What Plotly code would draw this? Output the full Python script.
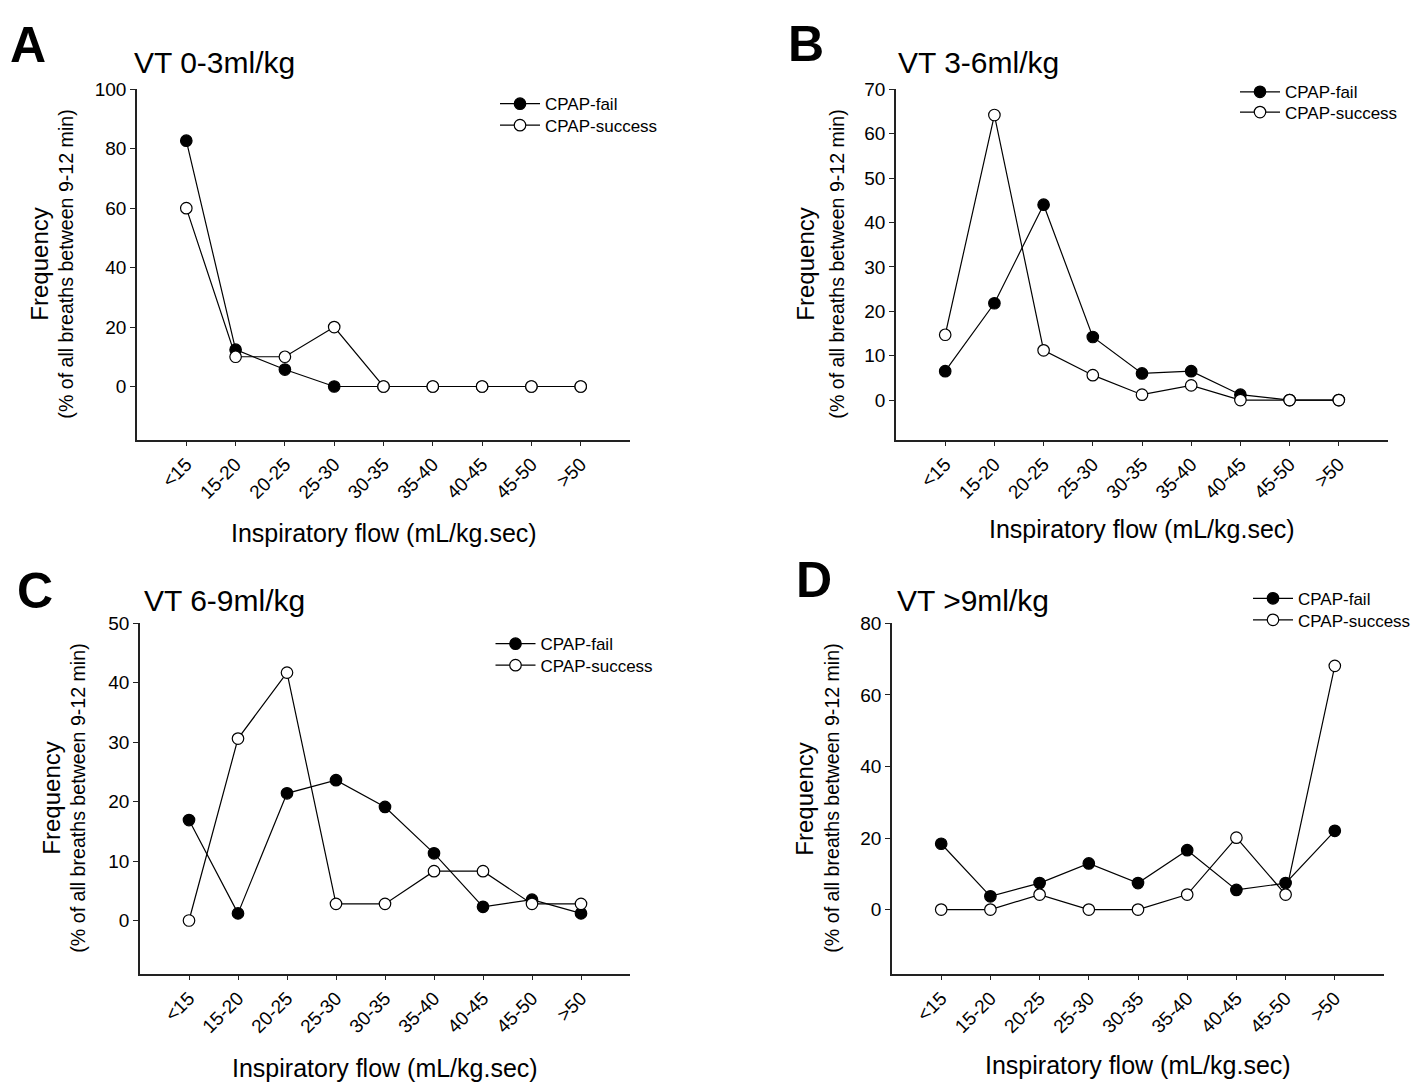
import plotly.graph_objects as go

W, H = 1424, 1083

categories = ["<15", "15-20", "20-25", "25-30", "30-35", "35-40", "40-45", "45-50", ">50"]

# Panel A: VT 0-3 ml/kg
a_fail = [82.7, 12.4, 5.7, 0, 0, 0, 0, 0, 0]
a_success = [60, 10, 10, 20, 0, 0, 0, 0, 0]
# Panel B: VT 3-6 ml/kg
b_fail = [6.5, 21.8, 44.0, 14.2, 6.0, 6.5, 1.2, 0, 0]
b_success = [14.7, 64.2, 11.2, 5.6, 1.2, 3.3, 0, 0, 0]
# Panel C: VT 6-9 ml/kg
c_fail = [16.9, 1.2, 21.4, 23.6, 19.1, 11.3, 2.3, 3.5, 1.2]
c_success = [0, 30.6, 41.7, 2.8, 2.8, 8.3, 8.3, 2.8, 2.8]
# Panel D: VT >9 ml/kg
d_fail = [18.4, 3.7, 7.4, 12.9, 7.4, 16.6, 5.5, 7.4, 22.0]
d_success = [0, 0, 4.2, 0, 0, 4.2, 20.1, 4.2, 68.1]

titles = ["VT 0-3ml/kg", "VT 3-6ml/kg", "VT 6-9ml/kg", "VT >9ml/kg"]
letters = ["A", "B", "C", "D"]
y_ticks = [[0, 20, 40, 60, 80, 100], [0, 10, 20, 30, 40, 50, 60, 70],
           [0, 10, 20, 30, 40, 50], [0, 20, 40, 60, 80]]
y_ranges = [[-18, 100], [-9, 70], [-9, 50], [-18, 80]]
series = [(a_fail, a_success), (b_fail, b_success), (c_fail, c_success), (d_fail, d_success)]
series_names = ["CPAP-fail", "CPAP-success"]

FONT = "Liberation Sans, Arial, sans-serif"

# pixel layout of each plot area: (left, right, top, bottom)
boxes = [(137, 630, 80, 434), (896, 1388, 80, 434), (140, 630, 619, 973), (892, 1384, 619, 973)]
# legend: (line start x, fail text center y, success text center y)
legend_pos = [(500, 95, 116.7), (1240, 83, 103.5), (495.5, 640, 661.7), (1253, 594.3, 616)]
title_pos = [(132, 53), (896, 53), (142, 596), (895, 596)]
letter_pos = [(28, 35), (806, 34), (35, 586), (814, 575)]
freq_x = [40, 806, 52, 805]
sub_x = [66, 837, 78, 832]
xtitle_y = [528, 524, 1068, 1065]


def px(x):
    return x / W


def py(y):
    return 1 - y / H


fig = go.Figure()
annotations = []
layout = {}
leg_idx = 0
for i in range(4):
    l, r, t, b = boxes[i]
    sfx = "" if i == 0 else str(i + 1)
    xa, ya = "x" + sfx, "y" + sfx
    lx, ly_fail, ly_succ = legend_pos[i]
    for j, vals in enumerate(series[i]):
        leg_idx += 1
        leg = "legend" if leg_idx == 1 else "legend" + str(leg_idx)
        filled = (j == 0)
        fig.add_trace(go.Scatter(
            x=categories, y=vals, mode="lines+markers", name=series_names[j],
            xaxis=xa, yaxis=ya, legend=leg,
            line=dict(color="black", width=1.2),
            marker=dict(symbol="circle", size=11.5,
                        color="black" if filled else "white",
                        line=dict(color="black", width=1.2)),
        ))
        layout[leg] = dict(
            x=px(lx - 5), y=py(ly_fail if filled else ly_succ),
            xanchor="left", yanchor="middle",
            bgcolor="rgba(0,0,0,0)", borderwidth=0,
            font=dict(family=FONT, size=17, color="black"),
            itemwidth=40,
        )
    layout["xaxis" + sfx] = dict(
        domain=[px(l), px(r)], anchor=ya, type="category",
        categoryorder="array", categoryarray=categories,
        range=[-1, 9], showline=True, linecolor="#222", linewidth=1.5,
        ticks="outside", ticklen=4, tickwidth=1.2, tickcolor="#222",
        tickangle=-45, tickfont=dict(family=FONT, size=19, color="black"),
        showgrid=False, zeroline=False, mirror=False,
    )
    layout["yaxis" + sfx] = dict(
        domain=[py(b), py(t)], anchor=xa, range=y_ranges[i],
        tickvals=y_ticks[i], showline=True, linecolor="#222", linewidth=1.5,
        ticks="outside", ticklen=5, tickwidth=1.2, tickcolor="#222",
        tickfont=dict(family=FONT, size=19, color="black"),
        showgrid=False, zeroline=False,
    )
    tx, ty = title_pos[i]
    annotations.append(dict(text=titles[i], x=px(tx), y=py(ty), xref="paper", yref="paper",
                            xanchor="left", yanchor="middle", showarrow=False,
                            font=dict(family=FONT, size=30, color="black")))
    lx2, ly2 = letter_pos[i]
    annotations.append(dict(text="<b>" + letters[i] + "</b>", x=px(lx2), y=py(ly2),
                            xref="paper", yref="paper", xanchor="center", yanchor="middle",
                            showarrow=False, font=dict(family=FONT, size=50, color="black")))
    cy = (t + b) / 2
    annotations.append(dict(text="Frequency", x=px(freq_x[i]), y=py(cy), xref="paper", yref="paper",
                            xanchor="center", yanchor="middle", textangle=-90, showarrow=False,
                            font=dict(family=FONT, size=24, color="black")))
    annotations.append(dict(text="(% of all breaths between 9-12 min)", x=px(sub_x[i]), y=py(cy),
                            xref="paper", yref="paper", xanchor="center", yanchor="middle",
                            textangle=-90, showarrow=False,
                            font=dict(family=FONT, size=19.6, color="black")))
    annotations.append(dict(text="Inspiratory flow (mL/kg.sec)", x=px((l + r) / 2), y=py(xtitle_y[i]),
                            xref="paper", yref="paper", xanchor="center", yanchor="middle",
                            showarrow=False, font=dict(family=FONT, size=25, color="black")))

fig.update_layout(
    width=W, height=H, margin=dict(l=0, r=0, t=0, b=0),
    paper_bgcolor="white", plot_bgcolor="white",
    showlegend=True, annotations=annotations,
    font=dict(family=FONT, color="black"),
    **layout,
)

fig.write_html("out.html", config={"displayModeBar": False},
               post_script="document.body.style.margin='0';document.body.style.padding='0';")
